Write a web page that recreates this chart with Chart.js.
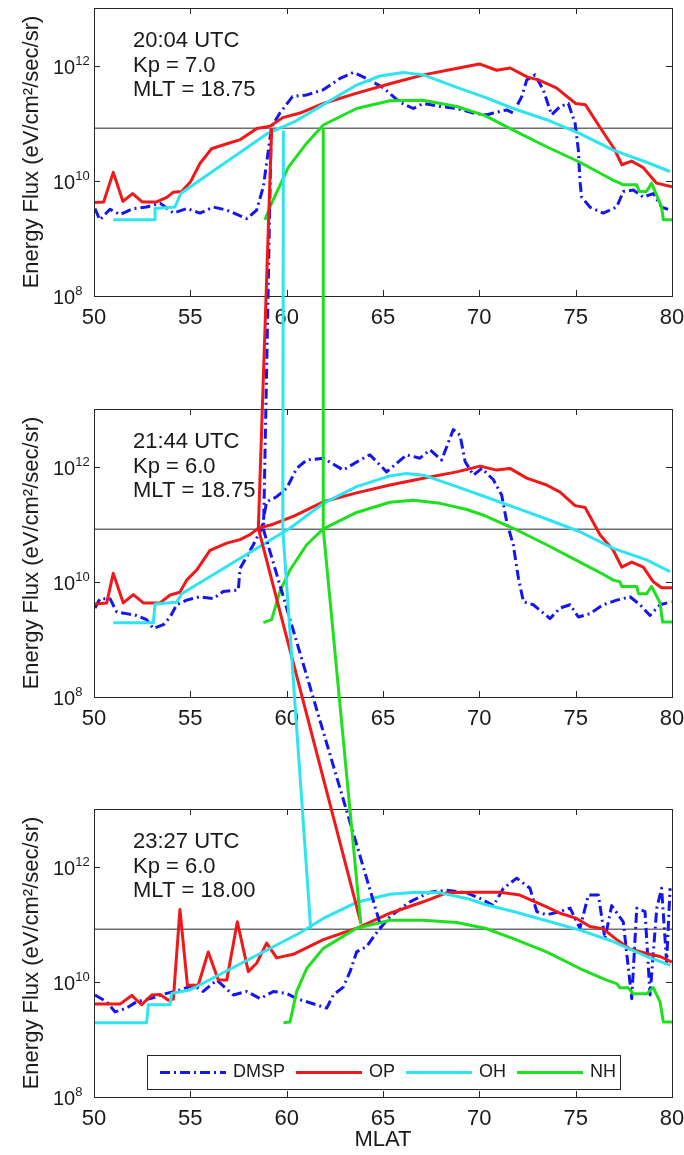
<!DOCTYPE html>
<html>
<head>
<meta charset="utf-8">
<script src="https://cdn.jsdelivr.net/npm/chart.js@4.4.0/dist/chart.umd.min.js"></script>
<style>
  body { margin: 0; background: #fff; }
  #fig { position: relative; width: 684px; height: 1155px; background: #fff; }
  #fig canvas { position: absolute; left: 0; }
</style>
</head>
<body>
<div id="fig">
  <canvas id="panel1" width="684" height="400" style="top:0px"></canvas>
  <canvas id="panel2" width="684" height="400" style="top:400px"></canvas>
  <canvas id="panel3" width="684" height="355" style="top:800px"></canvas>
  <canvas id="links" width="684" height="1155" style="top:0px"></canvas>
</div>
<script>
// ---- axis setup ----
const xTicks = [50, 55, 60, 65, 70, 75, 80];
const yTicks = [1e8, 1e10, 1e12];
const yTickExp = ['8', '10', '12'];
const threshold = 8.2e10;

// ---- panel annotations ----
const panelTimes = ['20:04 UTC', '21:44 UTC', '23:27 UTC'];
const panelKp = ['7.0', '6.0', '6.0'];
const panelMlt = ['18.75', '18.75', '18.00'];

// ---- panel 1 : [MLAT, energy flux] ----
const p1Dmsp = [[50.05,3.3e9],[50.3,2.1e9],[50.83,3.2e9],[51.35,2.6e9],[52.04,3.3e9],[52.73,3.5e9],[53.43,4.1e9],
  [54.12,2.75e9],[54.81,3.3e9],[55.5,2.75e9],[56.19,3.5e9],[56.89,3.1e9],[57.93,2.2e9],[58.44,3.1e9],[58.79,7.9e9],
  [59.05,3.4e10],[59.22,8.7e10],[59.65,1.5e11],[60.3,2.9e11],[61.04,3.1e11],[61.9,3.8e11],[62.77,6.0e11],[63.46,7.6e11],
  [64.15,6.0e11],[65.02,4.1e11],[65.88,2.3e11],[66.57,1.8e11],[67.09,2.2e11],[67.96,1.95e11],[68.83,1.8e11],[69.69,1.5e11],
  [70.4,1.4e11],[70.73,1.5e11],[71.42,1.7e11],[71.76,1.5e11],[72.2,2.9e11],[72.46,5.6e11],[72.89,6.9e11],[73.32,3.8e11],
  [73.75,1.4e11],[74.19,1.95e11],[74.62,2.2e11],[74.97,1.0e11],[75.14,3.4e10],[75.22,1.0e10],[75.31,5.2e9],[75.74,3.5e9],
  [76.43,2.75e9],[77.13,3.5e9],[77.47,6.5e9],[77.99,6.9e9],[78.51,5.2e9],[79.03,6.0e9],[79.46,3.5e9],[79.9,3.1e9]];
const p1Op = [[50.0,4.2e9],[50.5,4.3e9],[51.0,1.4e10],[51.5,4.4e9],[52.0,6.0e9],[52.5,4.3e9],[53.25,4.3e9],[53.8,5.2e9],
  [54.1,6.3e9],[54.55,6.5e9],[55.0,9.5e9],[55.5,2.0e10],[56.1,3.6e10],[56.9,4.4e10],[57.6,5.2e10],[58.45,8.1e10],
  [59.15,8.9e10],[59.8,1.25e11],[60.7,1.5e11],[61.9,2.2e11],[63.6,3.3e11],[65.4,4.9e11],[67.1,6.9e11],[68.8,8.9e11],
  [70.0,1.07e12],[70.9,8.3e11],[71.6,9.1e11],[72.5,6.3e11],[73.1,5.6e11],[74.0,4.1e11],[75.0,2.2e11],[75.5,2.1e11],
  [76.3,8.1e10],[77.0,3.6e10],[77.4,1.9e10],[77.9,2.2e10],[78.5,1.7e10],[79.2,9.1e9],[80.0,7.9e9]];
const p1Oh = [[51.0,2.1e9],[53.17,2.1e9],[53.17,3.3e9],[54.2,3.5e9],[54.5,6.0e9],[59.0,6.6e10],[60.5,1.1e11],
  [61.9,2.1e11],[63.63,4.6e11],[64.84,6.6e11],[66.05,7.6e11],[67.09,6.9e11],[68.83,4.2e11],[70.3,2.8e11],[71.76,1.8e11],
  [73.49,1.15e11],[75.22,6.6e10],[76.95,3.4e10],[78.68,2.1e10],[79.9,1.45e10]];
const p1Nh = [[58.87,2.1e9],[59.22,4.1e9],[60.1,1.74e10],[61.04,4.5e10],[61.9,9.3e10],[63.63,1.8e11],[65.36,2.45e11],
  [67.09,2.5e11],[68.83,1.95e11],[70.3,1.35e11],[71.76,7.6e10],[73.49,3.9e10],[75.22,2.1e10],[76.95,1.02e10],[77.3,9.1e9],
  [77.46,8.5e9],[78.17,8.5e9],[78.3,6.5e9],[78.68,6.5e9],[78.94,9.1e9],[79.46,3.5e9],[79.55,2.1e9],[80.0,2.1e9]];

// ---- panel 2 ----
const p2Dmsp = [[50.05,3.5e9],[50.31,5.1e9],[50.83,5.1e9],[51.18,3.0e9],[51.69,2.8e9],[52.21,2.6e9],[52.73,2.2e9],
  [53.08,1.55e9],[53.6,1.8e9],[53.95,2.45e9],[54.29,4.0e9],[54.81,4.8e9],[55.5,5.5e9],[56.19,5.1e9],[56.71,6.8e9],
  [57.49,7.2e9],[57.58,1.7e10],[58.27,4.4e10],[58.7,8.5e10],[58.96,2.45e11],[59.48,3.0e11],[60.0,4.2e11],[60.52,9.3e11],
  [61.04,1.3e12],[61.9,1.4e12],[62.94,8.7e11],[63.8,1.3e12],[64.32,1.6e12],[65.19,8.1e11],[66.22,1.6e12],[66.92,1.4e12],
  [67.44,1.95e12],[68.04,1.3e12],[68.65,4.4e12],[69.0,3.5e12],[69.26,1.23e12],[69.69,7.1e11],[70.13,9.3e11],[70.73,5.9e11],
  [71.16,3.2e11],[71.42,1.1e11],[71.76,4.4e10],[72.03,1.15e10],[72.29,4.5e9],[72.8,4.0e9],[73.67,2.3e9],[74.19,3.5e9],
  [74.71,4.0e9],[75.14,2.45e9],[75.74,2.8e9],[76.43,4.0e9],[77.13,4.8e9],[77.82,5.5e9],[78.34,4.0e9],[78.86,2.6e9],
  [79.38,4.0e9],[79.97,4.5e9]];
const p2Op = [[50.05,4.1e9],[50.66,4.3e9],[51.0,1.4e10],[51.52,4.3e9],[52.04,6.0e9],[52.56,4.3e9],[53.43,4.3e9],
  [53.95,5.9e9],[54.46,6.6e9],[54.81,1.07e10],[55.33,1.6e10],[56.02,3.5e10],[56.89,4.7e10],[57.58,5.4e10],[58.1,6.6e10],
  [58.53,8.5e10],[59.3,1.0e11],[60.4,1.4e11],[61.9,2.45e11],[63.63,3.5e11],[65.36,4.8e11],[67.09,6.3e11],[68.83,8.1e11],
  [70.04,1.02e12],[70.9,8.7e11],[71.59,9.3e11],[72.46,6.3e11],[73.49,4.8e11],[74.19,3.6e11],[74.97,2.1e11],[75.49,1.95e11],
  [76.27,6.5e10],[76.96,3.5e10],[77.39,1.8e10],[77.91,2.2e10],[78.51,1.8e10],[79.03,1.0e10],[79.46,7.9e9],[80.0,7.9e9]];
const p2Oh = [[51.0,1.95e9],[53.08,1.95e9],[53.17,4.1e9],[54.29,4.4e9],[54.55,6.2e9],[60.17,8.5e10],[61.9,2.3e11],
  [63.63,4.5e11],[65.36,6.9e11],[66.22,7.6e11],[67.09,7.1e11],[68.83,4.5e11],[70.3,3.0e11],[71.76,2.0e11],[73.49,1.23e11],
  [75.22,7.4e10],[76.95,3.8e10],[78.68,2.4e10],[79.9,1.5e10]];
const p2Nh = [[58.79,1.95e9],[59.22,2.2e9],[59.65,6.8e9],[60.17,1.6e10],[61.04,4.4e10],[61.9,8.3e10],[63.63,1.6e11],
  [65.36,2.4e11],[66.57,2.6e11],[67.96,2.3e11],[69.35,1.8e11],[70.3,1.4e11],[71.76,8.5e10],[73.49,4.4e10],[75.22,2.2e10],
  [76.52,1.3e10],[76.95,1.07e10],[77.3,1.0e10],[77.39,8.3e9],[78.17,8.3e9],[78.26,6.2e9],[78.68,6.2e9],[78.94,8.3e9],
  [79.38,4.3e9],[79.51,2.0e9],[80.0,2.0e9]];

// ---- panel 3 ----
const p3Dmsp = [[50.05,5.9e9],[50.66,4.5e9],[51.09,3.0e9],[51.69,3.5e9],[52.21,4.5e9],[52.91,5.1e9],[53.77,6.3e9],
  [54.46,7.2e9],[55.15,8.7e9],[55.67,6.8e9],[56.37,1.07e10],[57.23,5.9e9],[57.93,6.8e9],[58.62,5.1e9],[59.31,6.8e9],
  [60.0,6.3e9],[60.52,5.1e9],[61.04,4.5e9],[62.08,3.5e9],[62.42,5.9e9],[62.94,8.1e9],[63.29,1.5e10],[63.63,3.3e10],
  [64.15,4.1e10],[64.58,6.5e10],[64.93,9.1e10],[65.36,1.35e11],[66.4,2.45e11],[67.44,3.6e11],[68.3,3.9e11],[69.35,3.5e11],
  [70.04,2.8e11],[70.73,2.1e11],[71.25,4.2e11],[71.94,6.3e11],[72.63,4.2e11],[72.98,1.66e11],[73.49,1.45e11],[74.19,1.66e11],
  [74.71,1.9e11],[75.22,8.5e10],[75.66,3.2e11],[76.18,3.2e11],[76.52,5.6e10],[76.87,2.1e11],[77.47,1.1e11],[77.91,5.1e9],
  [78.17,1.9e11],[78.6,1.66e11],[78.86,5.9e9],[79.21,1.9e11],[79.46,4.2e11],[79.72,2.2e10],[79.9,4.2e11]];
const p3Op = [[50.05,4.1e9],[51.35,4.1e9],[51.96,5.8e9],[52.47,4.0e9],[52.99,5.9e9],[53.43,6.0e9],[53.86,4.8e9],
  [54.12,5.0e9],[54.46,1.8e11],[54.85,8.7e9],[55.41,8.7e9],[55.93,3.3e10],[56.45,1.07e10],[56.89,1.07e10],[57.44,1.1e11],
  [58.01,1.5e10],[58.44,2.1e10],[58.96,4.7e10],[59.48,2.6e10],[60.34,3.0e10],[61.9,5.4e10],[63.63,8.5e10],[65.36,1.55e11],
  [67.09,2.45e11],[68.3,3.5e11],[69.69,3.6e11],[71.07,3.6e11],[72.1,3.2e11],[73.49,2.0e11],[74.19,1.55e11],[75.05,1.26e11],
  [75.74,9.1e10],[76.43,8.3e10],[77.13,5.4e10],[77.82,3.7e10],[78.68,3.1e10],[79.38,2.75e10],[80.0,2.2e10]];
const p3Oh = [[50.05,1.95e9],[52.73,1.95e9],[52.82,4.0e9],[53.95,4.0e9],[54.03,6.3e9],[54.98,7.2e9],[60.7,7.1e10],
  [61.9,1.26e11],[63.63,2.4e11],[65.36,3.3e11],[66.74,3.6e11],[67.96,3.5e11],[69.35,2.8e11],[70.3,2.2e11],[71.76,1.66e11],
  [73.49,1.15e11],[75.22,7.9e10],[76.95,5.0e10],[78.68,2.75e10],[79.9,1.95e10]];
const p3Nh = [[59.83,1.95e9],[60.17,2.0e9],[60.52,6.8e9],[61.04,1.7e10],[61.9,3.8e10],[63.63,8.5e10],[65.36,1.17e11],
  [67.09,1.17e11],[68.83,1.07e11],[70.3,8.5e10],[71.76,5.6e10],[73.49,3.3e10],[75.22,1.7e10],[76.6,1.07e10],[77.13,9.3e9],
  [77.3,7.9e9],[77.73,7.9e9],[77.99,6.2e9],[78.68,6.2e9],[79.03,7.9e9],[79.38,4.5e9],[79.55,2.0e9],[80.0,2.0e9]];

// ---- boundary links: one point per panel (panel 1, 2, 3) ----
const linkDmsp = [[59.2, 8.0e10], [58.8, 8.0e10], [64.93, 8.2e10]];
const linkOp = [[59.22, 8.0e10], [58.53, 8.5e10], [63.85, 1.05e11]];
const linkOh = [[59.83, 7.5e10], [59.8, 8.0e10], [61.25, 8.2e10]];
const linkNh = [[61.9, 8.2e10], [61.9, 8.2e10], [63.85, 1.0e11]];

const FONT = '"Liberation Sans", Arial, Helvetica, sans-serif';
const AXIS = '#262626';

const SERIES = [
  { key: 'dmsp', label: 'DMSP', color: '#1515ee', dash: [10, 4, 2, 4], link: linkDmsp },
  { key: 'op', label: 'OP', color: '#f01818', dash: [], link: linkOp },
  { key: 'oh', label: 'OH', color: '#2ee4f0', dash: [], link: linkOh },
  { key: 'nh', label: 'NH', color: '#1ee01e', dash: [], link: linkNh }
];

const panelData = [
  { dmsp: p1Dmsp, op: p1Op, oh: p1Oh, nh: p1Nh },
  { dmsp: p2Dmsp, op: p2Op, oh: p2Oh, nh: p2Nh },
  { dmsp: p3Dmsp, op: p3Op, oh: p3Oh, nh: p3Nh }
];

const pts = arr => arr.map(([x, y]) => ({ x, y }));

// axes frame, ticks, labels, text box and legend drawn with the chart scales
const framePlugin = {
  id: 'frame',
  afterDatasetsDraw(chart, args, opts) {
    const { ctx, chartArea: a, scales: { x, y } } = chart;
    ctx.save();
    ctx.strokeStyle = AXIS;
    ctx.lineWidth = 1;
    ctx.setLineDash([]);
    ctx.strokeRect(Math.round(a.left) + 0.5, Math.round(a.top) + 0.5, Math.round(a.width), Math.round(a.height));

    // tick marks (inside)
    ctx.beginPath();
    xTicks.forEach(v => {
      const px = Math.round(x.getPixelForValue(v)) + 0.5;
      ctx.moveTo(px, a.bottom); ctx.lineTo(px, a.bottom - 6);
      ctx.moveTo(px, a.top); ctx.lineTo(px, a.top + 6);
    });
    yTicks.forEach(v => {
      const py = Math.round(y.getPixelForValue(v)) + 0.5;
      ctx.moveTo(a.left, py); ctx.lineTo(a.left + 6, py);
      ctx.moveTo(a.right, py); ctx.lineTo(a.right - 6, py);
    });
    ctx.stroke();

    ctx.fillStyle = '#1a1a1a';
    // x tick labels
    ctx.font = '22px ' + FONT;
    ctx.textAlign = 'center';
    ctx.textBaseline = 'alphabetic';
    xTicks.forEach(v => ctx.fillText(String(v), x.getPixelForValue(v), a.bottom + 28));

    // y tick labels 10^n
    yTicks.forEach((v, i) => {
      const py = y.getPixelForValue(v);
      ctx.textAlign = 'left';
      ctx.font = '20px ' + FONT;
      const bx = a.left - 41;
      ctx.fillText('10', bx, py + 8);
      const w = ctx.measureText('10').width;
      ctx.font = '13px ' + FONT;
      ctx.fillText(yTickExp[i], bx + w, py - 1);
    });

    // y title
    ctx.save();
    ctx.translate(32, (a.top + a.bottom) / 2);
    ctx.rotate(-Math.PI / 2);
    ctx.textAlign = 'center';
    ctx.textBaseline = 'middle';
    ctx.font = '22px ' + FONT;
    ctx.fillText('Energy Flux (eV/cm\u00B2/sec/sr)', 0, 0);
    ctx.restore();

    // annotation
    ctx.textAlign = 'left';
    ctx.textBaseline = 'middle';
    ctx.font = '22px ' + FONT;
    opts.lines.forEach((t, i) => ctx.fillText(t, a.left + 39, a.top + 33 + i * 24.5));

    if (opts.xTitle) {
      ctx.textAlign = 'center';
      ctx.textBaseline = 'alphabetic';
      ctx.fillText('MLAT', (a.left + a.right) / 2, a.bottom + 49);
    }

    if (opts.legend) {
      const lx = a.left + 53, ly = a.bottom - 42, lw = 473, lh = 34;
      ctx.fillStyle = '#fff';
      ctx.fillRect(lx, ly, lw, lh);
      ctx.strokeStyle = AXIS;
      ctx.strokeRect(lx + 0.5, ly + 0.5, lw, lh);
      ctx.font = '18px ' + FONT;
      ctx.textAlign = 'left';
      ctx.textBaseline = 'middle';
      let cx = lx + 13;
      const cy = ly + lh / 2 + 0.5;
      SERIES.forEach(s => {
        ctx.strokeStyle = s.color;
        ctx.lineWidth = 3;
        ctx.setLineDash(s.dash);
        ctx.beginPath(); ctx.moveTo(cx, cy); ctx.lineTo(cx + 66, cy); ctx.stroke();
        ctx.setLineDash([]);
        ctx.fillStyle = '#1a1a1a';
        ctx.fillText(s.label, cx + 73, cy);
        cx += 73 + ctx.measureText(s.label).width + 11;
      });
    }
    ctx.restore();
  }
};

const paddings = [
  { left: 94, right: 12, top: 8, bottom: 104 },
  { left: 94, right: 12, top: 9, bottom: 103 },
  { left: 94, right: 12, top: 9, bottom: 58 }
];

const charts = panelData.map((pd, i) => {
  const datasets = SERIES.map((s, k) => ({
    label: s.label,
    data: pts(pd[s.key]),
    borderColor: s.color,
    borderDash: s.dash,
    borderWidth: 3,
    order: 4 - k
  }));
  datasets.push({
    label: 'threshold',
    data: pts([[50, threshold], [80, threshold]]),
    borderColor: AXIS,
    borderWidth: 1,
    order: 9
  });
  return new Chart(document.getElementById('panel' + (i + 1)), {
    type: 'line',
    data: { datasets },
    options: {
      responsive: false,
      animation: false,
      layout: { padding: paddings[i] },
      elements: { point: { radius: 0 }, line: { tension: 0, fill: false, borderCapStyle: 'butt', borderJoinStyle: 'round' } },
      scales: {
        x: { type: 'linear', min: 50, max: 80, display: false },
        y: { type: 'logarithmic', min: 1e8, max: 1e13, display: false }
      },
      plugins: {
        legend: { display: false },
        tooltip: { enabled: false },
        frame: {
          lines: [panelTimes[i], 'Kp = ' + panelKp[i], 'MLT = ' + panelMlt[i]],
          legend: i === 2,
          xTitle: i === 2
        }
      }
    },
    plugins: [framePlugin]
  });
});

// boundary links across the panels, placed with each panel's own scales
function drawLinks() {
  const cv = document.getElementById('links');
  const ctx = cv.getContext('2d');
  ctx.lineWidth = 3;
  ctx.lineJoin = 'round';
  SERIES.forEach(s => {
    ctx.strokeStyle = s.color;
    ctx.setLineDash(s.dash);
    ctx.beginPath();
    s.link.forEach(([lat, flux], i) => {
      const c = charts[i];
      const px = c.scales.x.getPixelForValue(lat) + c.canvas.offsetLeft;
      const py = c.scales.y.getPixelForValue(flux) + c.canvas.offsetTop;
      if (i === 0) ctx.moveTo(px, py); else ctx.lineTo(px, py);
    });
    ctx.stroke();
  });
}
drawLinks();
</script>
</body>
</html>
